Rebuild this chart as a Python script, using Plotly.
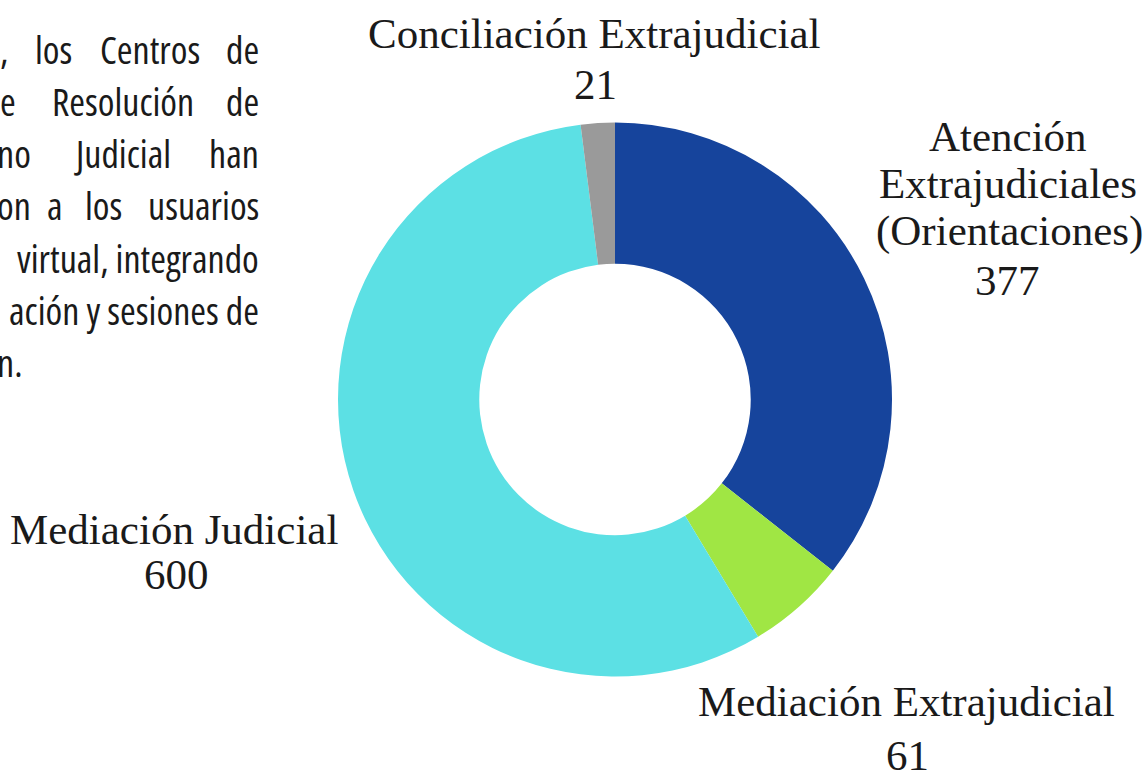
import plotly.graph_objects as go

# ---- data ----
categories = ["Atención Extrajudiciales (Orientaciones)", "Mediación Extrajudicial",
              "Mediación Judicial", "Conciliación Extrajudicial"]
label_lines = [["Atención", "Extrajudiciales", "(Orientaciones)"],
               ["Mediación Extrajudicial"],
               ["Mediación Judicial"],
               ["Conciliación Extrajudicial"]]
values = [377, 61, 600, 21]
colors = ["#16449C", "#A0E644", "#5CE0E4", "#9A9A9A"]

# paragraph fragment (left side, cropped text)
para_lines = [
    [",", "los", "Centros", "de"],
    ["e", "Resolución", "de"],
    ["no", "Judicial", "han"],
    ["on", "a", "los", "usuarios"],
    ["virtual, integrando"],
    ["ación y sesiones de"],
    ["n."],
]

W, H = 1145, 773

def px(x):
    return x / W

def py(y):
    return 1 - y / H

fig = go.Figure()
fig.add_trace(go.Pie(
    labels=categories, values=values,
    marker=dict(colors=colors, line=dict(width=0)),
    hole=0.49, sort=False, direction="clockwise", rotation=0,
    textinfo="none", hoverinfo="label+value", showlegend=False,
    domain=dict(x=[px(338), px(892)], y=[py(677), py(122)]),
))

annotations = []
serif = dict(family="Liberation Serif, Times New Roman, serif", size=43, color="#1a1a1a")

label_pos = [
    ([(1008, 136), (1008, 183), (1010, 231)], (1007, 281)),
    ([(906, 701)], (907, 755)),
    ([(174, 529)], (176, 574)),
    ([(594, 33)], (596, 84)),
]
for lines, val, (lpos, vpos) in zip(label_lines, values, label_pos):
    for txt, (x, y) in zip(lines, lpos):
        annotations.append(dict(text=txt, x=px(x), y=py(y), xref="paper", yref="paper",
                                xanchor="center", yanchor="middle", showarrow=False, font=serif))
    annotations.append(dict(text=str(val), x=px(vpos[0]), y=py(vpos[1]), xref="paper", yref="paper",
                            xanchor="center", yanchor="middle", showarrow=False, font=serif))

# paragraph word positions (justified text imitation)
sans = dict(family="Open Sans, DejaVu Sans Condensed, sans-serif", size=38, color="#1a1a1a")
word_x = [
    [("r", 10), ("l", 33), ("l", 98), ("r", 261)],
    [("r", 18), ("l", 50), ("r", 261)],
    [("r", 33), ("l", 72), ("r", 261)],
    [("r", 33), ("l", 45), ("l", 83), ("r", 261)],
    [("r", 261)],
    [("r", 261)],
    [("r", 25)],
]
baselines = [62, 114, 166, 218, 271, 323, 375]
for words, xs, b in zip(para_lines, word_x, baselines):
    for w, (anc, x) in zip(words, xs):
        annotations.append(dict(text='<span style="font-stretch:75%">' + w + '</span>',
                                x=px(x), y=py(b - 13), xref="paper", yref="paper",
                                xanchor="left" if anc == "l" else "right", yanchor="middle",
                                showarrow=False, font=sans))

fig.update_layout(
    width=W, height=H,
    margin=dict(l=0, r=0, t=0, b=0),
    paper_bgcolor="white", plot_bgcolor="white",
    annotations=annotations,
)
fig.write_html("out.html")
